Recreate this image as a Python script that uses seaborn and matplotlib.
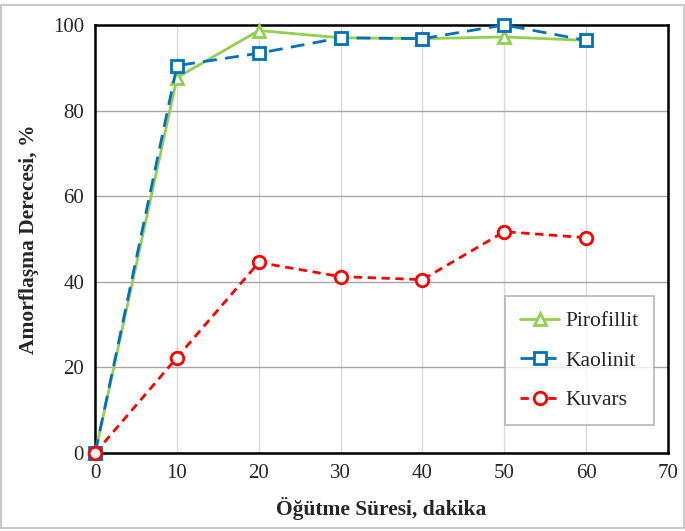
import pandas as pd
import numpy as np
import seaborn as sns
import matplotlib.pyplot as plt

sure = [0, 10, 20, 30, 40, 50, 60]
pirofillit = [0, 87.7, 98.7, 97.0, 96.8, 97.2, 96.4]
kaolinit = [0, 90.5, 93.4, 97.0, 96.8, 100.0, 96.4]
kuvars = [0, 22.3, 44.5, 41.2, 40.5, 51.7, 50.3]

sns.set_style("white")
plt.rcParams['font.family'] = ['Liberation Serif', 'DejaVu Serif']

fig = plt.figure(figsize=(6.85, 5.31), dpi=100)
ax = fig.add_axes([0.139, 0.147, 0.836, 0.806])

sns.lineplot(x=sure, y=pirofillit, ax=ax, color="#92D050", lw=2, marker="^",
             markersize=9, markerfacecolor="white", markeredgecolor="#92D050",
             markeredgewidth=2, label="Pirofillit", zorder=3, clip_on=False)
sns.lineplot(x=sure, y=kaolinit, ax=ax, color="#0070C0", lw=2, marker="s",
             markersize=9, markerfacecolor="white", markeredgecolor="#0070C0",
             markeredgewidth=2, label="Kaolinit", zorder=4, clip_on=False)
ax.lines[-1].set_dashes([5, 3])
sns.lineplot(x=sure, y=kuvars, ax=ax, color="#FF0000", lw=2, marker="o",
             markersize=9, markerfacecolor="white", markeredgecolor="#FF0000",
             markeredgewidth=2, label="Kuvars", zorder=5, clip_on=False)
ax.lines[-1].set_dashes([3, 2])

ax.set_xlim(0, 70)
ax.set_ylim(0, 100)
ax.set_xticks(range(0, 71, 10))
ax.set_yticks(range(0, 101, 20))
ax.tick_params(labelsize=15, length=0, pad=8)
ax.xaxis.grid(True, color="#d9d9d9", lw=1)
ax.yaxis.grid(True, color="#a6a6a6", lw=1)
ax.set_axisbelow(True)
for s in ax.spines.values():
    s.set_color("black")
    s.set_linewidth(1.8)

ax.set_xlabel("Öğütme Süresi, dakika", fontsize=15.5, fontweight="bold", labelpad=10)
ax.set_ylabel("Amorflaşma Derecesi, %", fontsize=15.5, fontweight="bold", labelpad=10)

leg = ax.legend(loc="lower right", bbox_to_anchor=(0.975, 0.065), fontsize=15.5,
                frameon=True, fancybox=False, edgecolor="#a6a6a6",
                labelspacing=0.9, handlelength=1.8, handletextpad=0.3,
                borderpad=0.7, borderaxespad=0)
leg.get_frame().set_linewidth(1.2)

fig.patches.append(plt.Rectangle((0.002, 0.005), 0.996, 0.985, transform=fig.transFigure,
                                 fill=False, edgecolor="#bfbfbf", lw=1.2))

fig.savefig("out.png", dpi=100)
